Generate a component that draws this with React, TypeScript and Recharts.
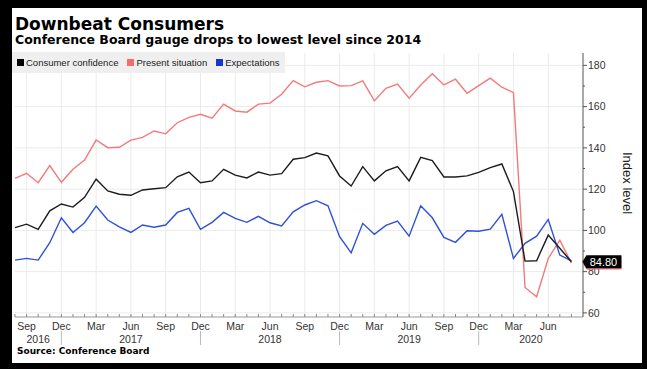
import React from "react";
import { LineChart, Line, XAxis, YAxis, CartesianGrid } from "recharts";

// Aug 2016 .. Aug 2020, monthly
const months = [
  "Aug", "Sep", "Oct", "Nov", "Dec",
  "Jan", "Feb", "Mar", "Apr", "May", "Jun", "Jul", "Aug", "Sep", "Oct", "Nov", "Dec",
  "Jan", "Feb", "Mar", "Apr", "May", "Jun", "Jul", "Aug", "Sep", "Oct", "Nov", "Dec",
  "Jan", "Feb", "Mar", "Apr", "May", "Jun", "Jul", "Aug", "Sep", "Oct", "Nov", "Dec",
  "Jan", "Feb", "Mar", "Apr", "May", "Jun", "Jul", "Aug",
];
const labelledMonths = ["Sep", "Dec", "Mar", "Jun"];

const confidence = [
  101.3, 103.0, 100.5, 109.5, 112.8, 111.3, 116.0, 124.8, 119.1, 117.5,
  117.0, 119.6, 120.2, 120.7, 126.0, 128.3, 123.1, 124.0, 129.6, 126.8,
  125.4, 128.3, 126.8, 127.5, 134.5, 135.3, 137.5, 136.1, 126.4, 121.5,
  130.9, 124.0, 128.9, 130.9, 124.0, 135.4, 133.8, 125.9, 125.9, 126.4,
  128.1, 130.4, 132.2, 118.8, 85.1, 85.3, 97.7, 91.3, 84.8,
];
const presentSituation = [
  125.2, 127.7, 123.1, 131.4, 123.3, 129.6, 134.1, 143.8, 140.1, 140.3,
  143.8, 145.1, 148.2, 146.8, 152.2, 154.8, 156.3, 154.4, 161.2, 157.9,
  157.3, 161.2, 161.7, 166.0, 172.6, 169.6, 171.8, 172.6, 170.0, 170.2,
  172.5, 162.8, 168.9, 170.9, 164.1, 170.5, 175.9, 170.5, 173.3, 166.5,
  170.2, 173.8, 169.4, 166.8, 72.3, 67.8, 86.4, 95.3, 84.2,
];
const expectations = [
  85.6, 86.4, 85.6, 94.0, 106.1, 99.0, 103.7, 111.8, 105.0, 101.7,
  99.0, 102.6, 101.5, 102.6, 108.7, 110.7, 100.5, 103.9, 108.7, 105.8,
  103.9, 106.8, 103.7, 102.2, 109.0, 112.3, 114.4, 111.9, 96.9, 89.1,
  103.4, 98.1, 102.4, 104.5, 97.2, 111.9, 106.1, 96.6, 94.2, 99.8,
  99.6, 100.6, 107.8, 86.4, 93.7, 97.2, 105.3, 88.0, 85.2,
];

const yTicks = [60, 70, 80, 90, 100, 110, 120, 130, 140, 150, 160, 170, 180];
const yMajor = [60, 80, 100, 120, 140, 160, 180];
const years = ["2016", "2017", "2018", "2019", "2020"];
const yearPos = [2, 10, 22, 34, 44.5];
const yearBreaks = [4, 16, 28, 40];

const BLACK = "#1c1c1c";
const PINK = "#f27a7c";
const BLUE = "#2f51d4";
const AXIS_FONT = "'Liberation Sans', Arial, sans-serif";
const TITLE_FONT = "'DejaVu Sans', Verdana, sans-serif";

const data = months.map((m, i) => ({
  i,
  month: m,
  confidence: confidence[i],
  present: presentSituation[i],
  expectations: expectations[i],
}));
const monthIdx = data.map((d) => d.i);
const quarterIdx = data.filter((d) => labelledMonths.includes(d.month)).map((d) => d.i);
const last = data.length - 1;

function MonthTick({ x, y, payload }: any) {
  const m = months[payload.value];
  const show = labelledMonths.includes(m);
  return (
    <g>
      <line x1={x} x2={x} y1={y} y2={y - 3} stroke="#888" />
      {show && (
        <text x={x} y={y + 12.5} textAnchor="middle" fontSize={10.5} fill="#333" fontFamily={AXIS_FONT}>
          {m}
        </text>
      )}
    </g>
  );
}

function YearTick({ x, y, payload }: any) {
  const k = yearPos.indexOf(payload.value);
  if (k >= 0) {
    return (
      <text x={x} y={y + 12} textAnchor="middle" fontSize={10.5} fill="#333" fontFamily={AXIS_FONT}>
        {years[k]}
      </text>
    );
  }
  return <line x1={x} x2={x} y1={y} y2={y + 14} stroke="#bbb" />;
}

function ValueTick({ x, y, payload }: any) {
  const major = yMajor.includes(payload.value);
  return (
    <g>
      <line x1={x} x2={x + (major ? 4 : 2)} y1={y} y2={y} stroke="#555" />
      {major && (
        <text x={x + 5} y={y} dy="0.36em" fontSize={10.5} fill="#333" fontFamily={AXIS_FONT}>
          {payload.value}
        </text>
      )}
    </g>
  );
}

// last-value tag on the right axis; the pink one sits under the black one
const endTag = (color: string, withText: boolean) => (props: any) => {
  const { x, y, index, value } = props;
  if (index !== last) return null;
  const h = 6.5;
  return (
    <g>
      <polygon
        points={`${x + 11},${y} ${x + 15},${y - h} ${x + 50},${y - h} ${x + 50},${y + h} ${x + 15},${y + h}`}
        fill={color}
      />
      {withText && (
        <text x={x + 32} y={y} dy="0.36em" textAnchor="middle" fontSize={11} fill="#fff" fontFamily={AXIS_FONT}>
          {Number(value).toFixed(2)}
        </text>
      )}
    </g>
  );
};

function LegendItem({ color, text }: { color: string; text: string }) {
  return (
    <span style={{ display: "inline-flex", alignItems: "center", marginRight: 9 }}>
      <span style={{ width: 7, height: 7, background: color, marginRight: 2 }} />
      {text}
    </span>
  );
}

export default function App() {
  return (
    <div style={{ position: "absolute", left: 0, top: 0, width: 647, height: 369, background: "#000" }}>
      <div style={{ position: "absolute", left: 12, top: 8, width: 630, height: 355, background: "#fff", overflow: "hidden" }}>
        <div style={{ position: "absolute", left: 3, top: 7.6, fontFamily: TITLE_FONT, fontWeight: "bold", fontSize: 17, lineHeight: "17px", color: "#000", whiteSpace: "nowrap" }}>
          Downbeat Consumers
        </div>
        <div style={{ position: "absolute", left: 3, top: 26.4, fontFamily: TITLE_FONT, fontWeight: "bold", fontSize: 12.5, lineHeight: "12.5px", color: "#000", whiteSpace: "nowrap" }}>
          Conference Board gauge drops to lowest level since 2014
        </div>

        <LineChart
          width={630}
          height={355}
          data={data}
          margin={{ top: 45, right: 9, bottom: 12, left: 3 }}
          style={{ position: "absolute", left: 0, top: 0 }}
        >
          <CartesianGrid stroke="#ebebeb" horizontalValues={yMajor} verticalValues={quarterIdx} />
          <XAxis
            dataKey="i"
            type="number"
            domain={[0, 49]}
            ticks={monthIdx}
            interval={0}
            tick={<MonthTick />}
            tickSize={0}
            tickMargin={0}
            axisLine={{ stroke: "#999" }}
            height={14}
          />
          <XAxis
            xAxisId="year"
            dataKey="i"
            type="number"
            domain={[0, 49]}
            ticks={[...yearPos, ...yearBreaks].sort((a, b) => a - b)}
            interval={0}
            tick={<YearTick />}
            tickSize={0}
            tickMargin={0}
            axisLine={false}
            height={20}
          />
          <YAxis
            orientation="right"
            domain={[58, 186]}
            ticks={yTicks}
            interval={0}
            tick={<ValueTick />}
            tickSize={0}
            tickMargin={0}
            axisLine={{ stroke: "#555" }}
            width={50}
          />
          <Line dataKey="present" stroke={PINK} strokeWidth={1.4} dot={false} isAnimationActive={false} label={endTag(PINK, false)} />
          <Line dataKey="expectations" stroke={BLUE} strokeWidth={1.4} dot={false} isAnimationActive={false} />
          <Line dataKey="confidence" stroke={BLACK} strokeWidth={1.4} dot={false} isAnimationActive={false} label={endTag("#000", true)} />
        </LineChart>

        <div style={{ position: "absolute", left: 0, top: 44, width: 273, height: 21, background: "#efefef", display: "flex", alignItems: "center", paddingLeft: 5, boxSizing: "border-box", fontFamily: AXIS_FONT, fontSize: 9.5, color: "#222", whiteSpace: "nowrap" }}>
          <LegendItem color="#000" text="Consumer confidence" />
          <LegendItem color="#f46c6c" text="Present situation" />
          <LegendItem color="#1538d0" text="Expectations" />
        </div>

        <div style={{ position: "absolute", left: 608.5, top: 144, width: 13, lineHeight: "13px", writingMode: "vertical-rl", fontFamily: AXIS_FONT, fontSize: 13, color: "#222", whiteSpace: "nowrap" }}>
          Index level
        </div>

        <div style={{ position: "absolute", left: 5, top: 339.4, fontFamily: TITLE_FONT, fontWeight: "bold", fontSize: 9, lineHeight: "9px", color: "#000", whiteSpace: "nowrap" }}>
          Source: Conference Board
        </div>
      </div>
    </div>
  );
}
